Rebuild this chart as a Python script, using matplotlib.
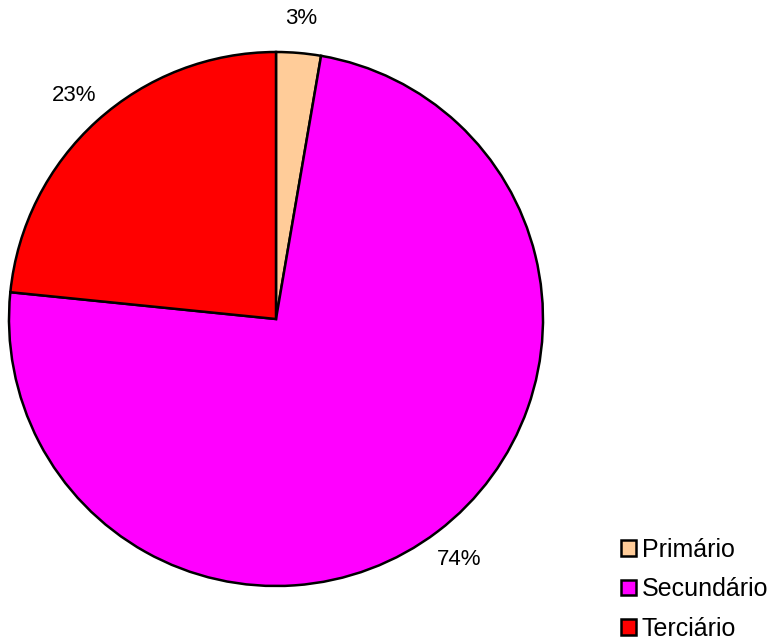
import matplotlib.pyplot as plt

plt.rcParams['font.family'] = ['Liberation Sans', 'DejaVu Sans']

setores = ['Primário', 'Secundário', 'Terciário']
percentuais = [2.7, 73.9, 23.4]
cores = ['#FFCC99', '#FF00FF', '#FF0000']

fig = plt.figure(figsize=(7.79, 6.42), dpi=100)
ax = fig.add_axes([0, 0, 1, 1])
ax.set_xlim(0, 779)
ax.set_ylim(0, 642)
ax.set_aspect('equal')

wedges, texts, pcts = ax.pie(percentuais, colors=cores, startangle=90, counterclock=False,
                             center=(276, 323), radius=267, frame=True,
                             autopct='%1.0f%%', pctdistance=1.13,
                             wedgeprops=dict(edgecolor='black', linewidth=1.8),
                             textprops=dict(fontsize=16, color='black'))
ax.axis('off')

leg = ax.legend(wedges, setores, loc='center left', bbox_to_anchor=(0.797, 0.082),
                frameon=False, fontsize=18, handlelength=0.6, handleheight=0.6,
                handletextpad=0.24, labelspacing=0.62, borderpad=0, borderaxespad=0)

fig.savefig('out.png', dpi=100)
